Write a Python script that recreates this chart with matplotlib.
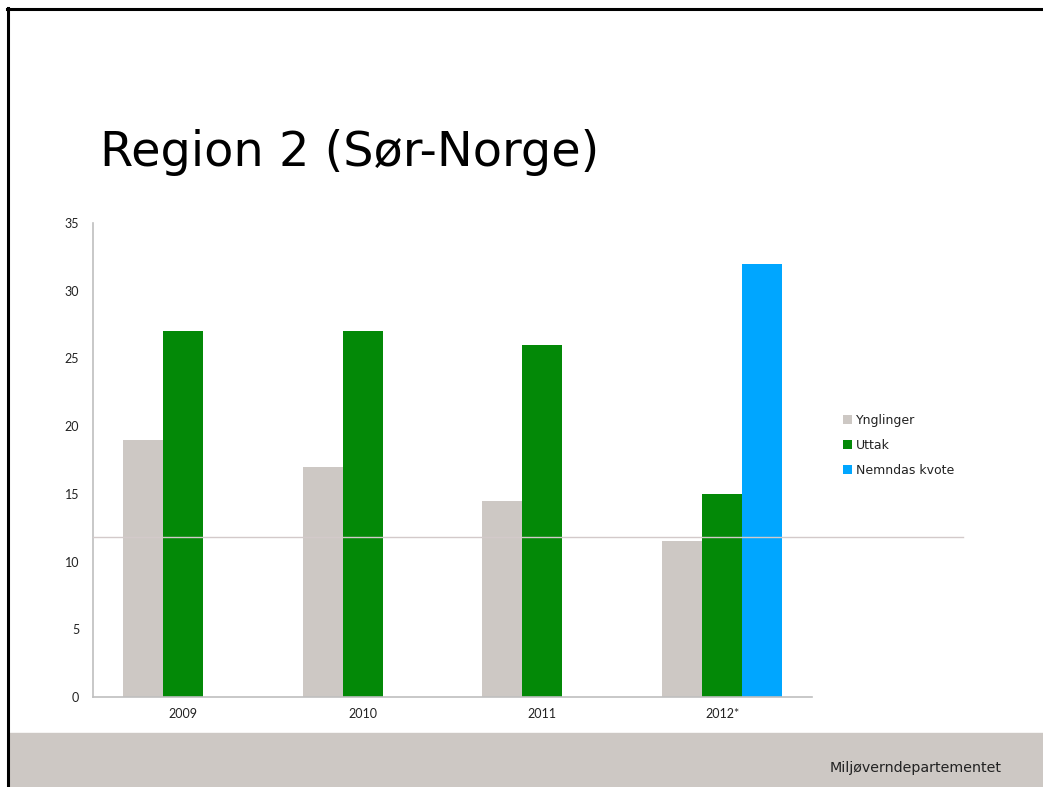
import matplotlib.pyplot as plt
from matplotlib.patches import Rectangle
import numpy as np

# data
years = ['2009', '2010', '2011', '2012*']
ynglinger = [19, 17, 14.5, 11.5]
uttak = [27, 27, 26, 15]
kvote = [0, 0, 0, 32]
series_names = ['Ynglinger', 'Uttak', 'Nemndas kvote']
ref_line = 11.8

colors = ['#cdc8c4', '#038907', '#00a6ff']

W, H = 1043, 787
fig = plt.figure(figsize=(W / 100, H / 100), dpi=100)

# slide frame and footer
fig.add_artist(Rectangle((9 / W, 0), 1 - 9 / W, (787 - 733) / H,
                         transform=fig.transFigure, color='#cdc8c4', zorder=0))
fig.add_artist(plt.Line2D([8 / W, 8 / W], [0, 1 - 8 / H], transform=fig.transFigure,
                          color='black', lw=2.2))
fig.add_artist(plt.Line2D([7 / W, 1], [1 - 9 / H, 1 - 9 / H], transform=fig.transFigure,
                          color='black', lw=2.2))

fig.text(100 / W, 1 - 153 / H, 'Region 2 (Sør-Norge)', fontsize=34.5,
         family='DejaVu Sans', va='center', ha='left')
fig.text(1002 / W, 1 - 768 / H, 'Miljøverndepartementet', fontsize=10.3,
         family='DejaVu Sans', va='center', ha='right', color='#222222')

# axes
ax = fig.add_axes([93 / W, 1 - 697 / H, (812 - 93) / W, (697 - 223) / H])
x = np.arange(len(years))
bw = 40 / 180
ax.bar(x - bw, ynglinger, bw, color=colors[0], label=series_names[0], zorder=2)
ax.bar(x, uttak, bw, color=colors[1], label=series_names[1], zorder=2)
kv = [v if v > 0 else np.nan for v in kvote]
ax.bar(x + bw, kv, bw, color=colors[2], label=series_names[2], zorder=2)

ax.set_xlim(-0.5, len(years) - 0.5)
ax.set_ylim(0, 35)
ax.set_yticks(range(0, 36, 5))
ax.set_xticks(x)
ax.set_xticklabels(years)
ax.tick_params(length=0, labelsize=9, colors='#222222')
ax.tick_params(axis='y', pad=10)
ax.tick_params(axis='x', pad=8)
for lbl in ax.get_xticklabels() + ax.get_yticklabels():
    lbl.set_family('Lato')
for s in ['top', 'right']:
    ax.spines[s].set_visible(False)
for s in ['left', 'bottom']:
    ax.spines[s].set_color('#bfbfbf')
    ax.spines[s].set_linewidth(1.2)

ax.axhline(ref_line, xmin=0, xmax=(963 - 93) / (812 - 93), color='#d3caca',
           lw=1, clip_on=False, zorder=3)

leg = ax.legend(loc='upper left', bbox_to_anchor=((838 - 93) / (812 - 93), (697 - 409) / (697 - 223)),
                frameon=False, fontsize=9, handlelength=0.7, handleheight=0.7,
                handletextpad=0.3, labelspacing=0.95, borderaxespad=0)
for t in leg.get_texts():
    t.set_family('DejaVu Sans')
    t.set_color('#222222')

fig.savefig('out.png', dpi=100)
